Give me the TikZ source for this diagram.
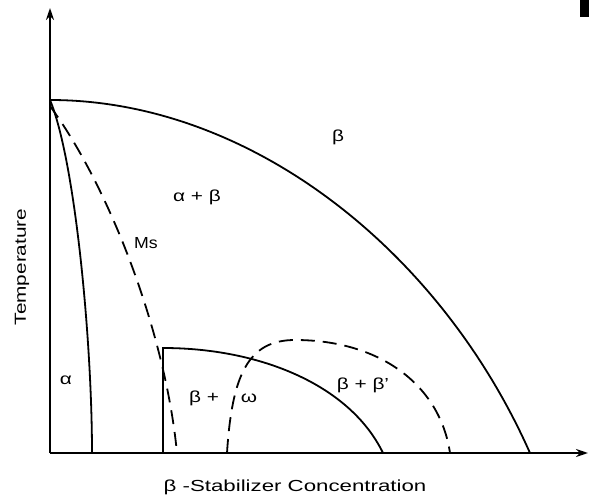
\documentclass[tikz,border=0pt]{standalone}
\usepackage{fontspec}
\setmainfont{Liberation Sans}
\usetikzlibrary{arrows.meta}
\begin{document}
\begin{tikzpicture}[x=1pt,y=-1pt,
  axis/.style={line width=2.6pt,-{Stealth[length=12pt,width=8pt]}},
  curve/.style={line width=1.8pt},
  dcurve/.style={line width=1.8pt,dash pattern=on 14pt off 8pt},
  lbl/.style={font=\fontsize{16}{18}\selectfont,inner sep=0pt,xscale=1.3}]
\useasboundingbox (0,0) rectangle (595,500);
\fill[white] (0,0) rectangle (595,500);
% axes
\coordinate (O) at (50,453);
\coordinate (Ytip) at (50,8);
\coordinate (Xtip) at (588,453);
\draw[axis] (O) -- (Ytip);
\draw[axis] (O) -- (Xtip);
% key points
\coordinate (T0) at (50,100);
\coordinate (T1) at (50,106);
\coordinate (Bend) at (530,453);
\coordinate (Aend) at (92,453);
\coordinate (Msend) at (177,453);
\coordinate (Wl) at (163,453);
\coordinate (Wtop) at (163,348);
\coordinate (Wend) at (383,453);
\coordinate (Pst) at (227,453);
\coordinate (Ppk) at (295,340);
\coordinate (Pend) at (450,453);
% beta transus
\draw[curve] (T0) .. controls (250,100) and (440,250) .. (Bend);
% alpha solvus
\draw[curve] (T0) .. controls (75,160) and (92,340) .. (Aend);
% Ms
\draw[dcurve] (T1) .. controls (108,185) and (165,330) .. (Msend);
% omega region
\draw[curve] (Wl) -- (Wtop) .. controls (260,348) and (350,385) .. (Wend);
% beta + beta'
\draw[dcurve] (Pst) .. controls (232,375) and (248,340) .. (Ppk) .. controls (380,340) and (440,385) .. (Pend);
% labels
\node[lbl] (lb) at (338,137) {β};
\node[lbl] (lab) at (197,197) {α + β};
\node[lbl,xscale=0.85] (lms) at (146,243) {Ms};
\node[lbl] (la) at (66,380) {α};
\node[lbl] (lbw) at (204,398) {β +};
\node[lbl] (lw) at (249,398) {ω};
\node[lbl] (lbb) at (363,385) {β + β'};
\node[rotate=90,lbl] (lt) at (22,267) {Temperature};
\node[lbl,xscale=1.07] (lx) at (295,487) {β -Stabilizer Concentration};
\fill (580,0) rectangle (589,17);
\end{tikzpicture}
\end{document}
